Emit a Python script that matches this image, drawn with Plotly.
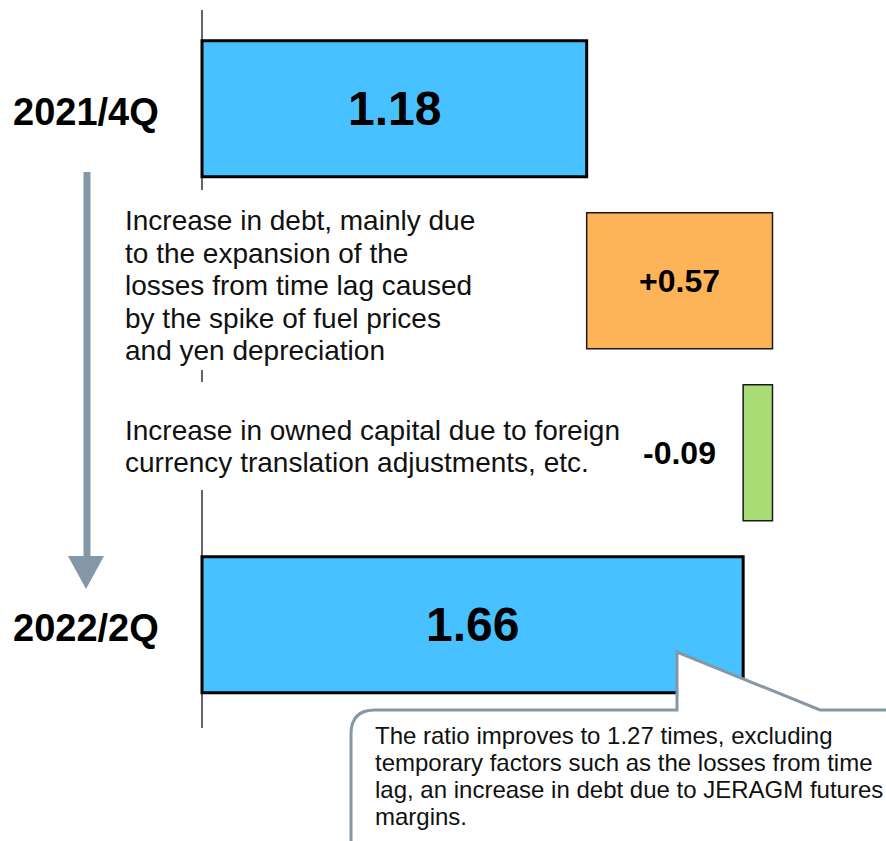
import plotly.graph_objects as go

# ---------------- data ----------------
periods = ["2021/4Q", "2022/2Q"]
start_value = 1.18
changes = [0.57, -0.09]
end_value = 1.66
change_labels = ["+0.57", "-0.09"]
change_texts = [
    ["Increase in debt, mainly due", "to the expansion of the",
     "losses from time lag caused", "by the spike of fuel prices",
     "and yen depreciation"],
    ["Increase in owned capital due to foreign",
     "currency translation adjustments, etc."],
]
note_lines = [
    "The ratio improves to 1.27 times, excluding",
    "temporary factors such as the losses from time",
    "lag, an increase in debt due to JERAGM futures",
    "margins.",
]

# ---------------- derived waterfall ----------------
values = [start_value] + changes + [end_value]
bases = [0.0, start_value, start_value + changes[0], 0.0]
rows = [0, 1, 2, 3]
colors = ["#47C1FF", "#FDB458", "#A8DC74", "#47C1FF"]
line_w = [3, 1.5, 1.5, 3]
line_c = ["#000000", "#1a1a1a", "#1a1a1a", "#000000"]

W, H = 886, 841
FONT = "Liberation Sans, Arial, sans-serif"
GRAY = "#8497A6"


def px(x):
    return x / W


def py(y):
    return 1 - y / H


fig = go.Figure()
fig.add_trace(go.Bar(
    y=rows, x=values, base=bases, orientation="h", width=0.79,
    marker=dict(color=colors, line=dict(color=line_c, width=line_w)),
    hoverinfo="skip", showlegend=False,
))

ann = []
# big value labels
ann.append(dict(x=bases[0] + values[0] / 2, y=0, xref="x", yref="y",
                text="<b>%.2f</b>" % start_value, showarrow=False,
                font=dict(size=48, family=FONT, color="#000")))
ann.append(dict(x=bases[3] + values[3] / 2, y=3, xref="x", yref="y",
                text="<b>%.2f</b>" % end_value, showarrow=False,
                font=dict(size=48, family=FONT, color="#000")))
ann.append(dict(x=bases[1] + values[1] / 2, y=1, xref="x", yref="y",
                text="<b>%s</b>" % change_labels[0], showarrow=False,
                font=dict(size=32, family=FONT, color="#000")))
ann.append(dict(x=bases[2] + values[2], y=2, xref="x", yref="y",
                xanchor="right", xshift=-25,
                text="<b>%s</b>" % change_labels[1], showarrow=False,
                font=dict(size=32, family=FONT, color="#000")))
# period labels
for row, lab in zip([0, 3], periods):
    ann.append(dict(x=px(86), y=row, xref="paper", yref="y", yshift=-3,
                    xanchor="center",
                    text="<b>%s</b>" % lab, showarrow=False,
                    font=dict(size=38, family=FONT, color="#000")))
# explanation texts (one annotation per line)
offsets = [5, -6.5]
for row, lines, off in zip([1, 2], change_texts, offsets):
    n = len(lines)
    for i, t in enumerate(lines):
        dy = (i - (n - 1) / 2) * 32.5 + off
        ann.append(dict(x=px(123), y=row, xref="paper", yref="y",
                        xanchor="left", yshift=-dy, text=t, showarrow=False,
                        font=dict(size=28, family=FONT, color="#111")))
# callout text
for i, t in enumerate(note_lines):
    ann.append(dict(x=px(373), y=py(735 + i * 27.3), xref="paper", yref="paper",
                    xanchor="left", yanchor="middle", text=t, showarrow=False,
                    font=dict(size=24, family=FONT, color="#111")))

shapes = []
# axis line segments at x = 0
for y0, y1 in [(10, 190), (370, 382), (490, 728)]:
    shapes.append(dict(type="line", xref="x", yref="paper", x0=0, x1=0,
                       y0=py(y0), y1=py(y1), layer="below",
                       line=dict(color="#333", width=1.5)))
# down arrow
shapes.append(dict(type="line", xref="paper", yref="paper",
                   x0=px(87), x1=px(87), y0=py(172), y1=py(560),
                   line=dict(color=GRAY, width=7)))
shapes.append(dict(type="path", xref="paper", yref="paper",
                   path="M %f %f L %f %f L %f %f Z" % (
                       px(68), py(556), px(104), py(556), px(86), py(589)),
                   fillcolor=GRAY, line=dict(width=0)))
# callout
path = ("M {a} {b} L {c} {b} L {d} {e} L {d} {b} L {f} {b} "
        "Q {g} {b} {g} {h} L {g} {i} L {a} {i} Z").format(
    a=px(900), b=py(710), c=px(820), d=px(677), e=py(652), f=px(375),
    g=px(351), h=py(734), i=py(860))
shapes.append(dict(type="path", xref="paper", yref="paper", path=path,
                   fillcolor="white", line=dict(color=GRAY, width=3)))

fig.update_layout(
    width=W, height=H, margin=dict(l=0, r=0, t=0, b=0),
    paper_bgcolor="white", plot_bgcolor="white",
    xaxis=dict(range=[-202 / 326, (W - 202) / 326], visible=False),
    yaxis=dict(range=[(H - 108.75) / 172, -108.75 / 172], visible=False),
    annotations=ann, shapes=shapes, showlegend=False,
)

fig.write_html("out.html")
